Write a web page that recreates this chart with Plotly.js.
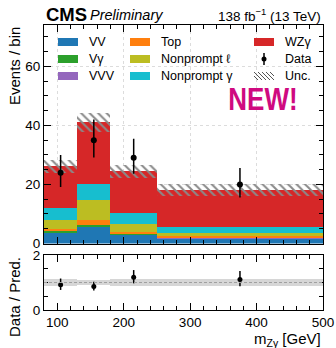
<!DOCTYPE html>
<html>
<head>
<meta charset="utf-8">
<script src="https://cdn.plot.ly/plotly-3.0.1.min.js"></script>
<style>
  html, body { margin: 0; padding: 0; background: #fff; }
  #plot { width: 336px; height: 348px; }
</style>
</head>
<body>
<div id="plot"></div>
<script>
// Bin edges in m_Zγ [GeV]
const binEdges = [80, 130, 180, 250, 500];

// Expected yields per bin, stacked from bottom to top
const vv          = [3.7, 5.6, 2.8, 1.45];
const vgamma      = [0.5, 0.6, 0.4, 0.15];
const vvv         = [0.15, 0.15, 0.1, 0.15];
const topQuark    = [0.65, 1.55, 0.5, 0.7];
const nonpromptL  = [3.1, 6.9, 2.9, 1.05];
const nonpromptG  = [3.9, 5.5, 3.7, 2.1];
const wzgamma     = [14.2, 20.7, 14.0, 12.4];

// Total prediction uncertainty (absolute, half width)
const predUnc     = [2.2, 3.3, 2.1, 2.0];
// Relative uncertainty shown in the ratio panel
const ratioUnc    = [0.14, 0.10, 0.13, 0.13];

// Observed events with asymmetric Poisson errors
const dataCounts  = [24, 35, 29, 20];
const dataErrUp   = [5.99, 6.97, 6.44, 5.58];
const dataErrDown = [4.88, 5.89, 5.35, 4.44];

// Axis tick values
const xTicks = [100, 200, 300, 400, 500];
const yTicks = [0, 20, 40, 60];
const rTicks = [0, 2];

const processNames  = ['VV', 'Vγ', 'VVV', 'Top', 'Nonprompt ℓ', 'Nonprompt γ', 'WZγ'];
const processValues = [vv, vgamma, vvv, topQuark, nonpromptL, nonpromptG, wzgamma];
const processColors = ['#1f77b4', '#2ca02c', '#9467bd', '#ff7f0e', '#bcbd22', '#17becf', '#d62728'];

const centers = binEdges.slice(0, -1).map((e, i) => (e + binEdges[i + 1]) / 2);
const widths  = binEdges.slice(0, -1).map((e, i) => binEdges[i + 1] - e);

const traces = [];
const running = centers.map(() => 0);
processValues.forEach((vals, k) => {
  traces.push({
    type: 'bar', x: centers, y: vals, base: running.slice(), width: widths,
    marker: { color: processColors[k], line: { width: 0 } },
    name: processNames[k], showlegend: false, hoverinfo: 'skip',
    xaxis: 'x', yaxis: 'y'
  });
  vals.forEach((v, i) => { running[i] += v; });
});
const total = running.slice();

// Hatched uncertainty band around the total prediction
traces.push({
  type: 'bar', x: centers, y: predUnc.map(u => 2 * u),
  base: total.map((t, i) => t - predUnc[i]), width: widths,
  marker: { color: 'rgba(0,0,0,0)', line: { width: 0 },
            pattern: { shape: '\\', fgcolor: '#8a8a8a', bgcolor: 'rgba(0,0,0,0)', size: 6, solidity: 0.35 } },
  showlegend: false, hoverinfo: 'skip', xaxis: 'x', yaxis: 'y'
});

// Data points
traces.push({
  type: 'scatter', mode: 'markers', x: centers, y: dataCounts,
  marker: { color: 'black', size: 6 },
  error_y: { type: 'data', symmetric: false, array: dataErrUp, arrayminus: dataErrDown,
             color: 'black', thickness: 1.5, width: 0 },
  showlegend: false, hoverinfo: 'skip', xaxis: 'x', yaxis: 'y'
});

// Ratio panel: uncertainty band
traces.push({
  type: 'bar', x: centers, y: ratioUnc.map(u => 2 * u), base: ratioUnc.map(u => 1 - u),
  width: widths, marker: { color: '#d6d6d6', line: { width: 0 } },
  showlegend: false, hoverinfo: 'skip', xaxis: 'x2', yaxis: 'y2'
});

// Ratio panel: data / prediction
traces.push({
  type: 'scatter', mode: 'markers', x: centers,
  y: dataCounts.map((d, i) => d / total[i]),
  marker: { color: 'black', size: 5 },
  error_y: { type: 'data', symmetric: false,
             array: dataErrUp.map((e, i) => e / total[i]),
             arrayminus: dataErrDown.map((e, i) => e / total[i]),
             color: 'black', thickness: 1.5, width: 0 },
  showlegend: false, hoverinfo: 'skip', xaxis: 'x2', yaxis: 'y2'
});

// Pixel helpers for annotations and the hand-drawn legend
const L = 44, R = 13, T = 25, B = 38, W = 336, H = 348;
const pw = W - L - R, ph = H - T - B;
const px = x => (x - L) / pw;
const py = y => (H - B - y) / ph;

const FONT = 'Liberation Sans, Arial, sans-serif';
const tickFont = { family: FONT, size: 13.5, color: 'black' };

const axisCommon = {
  showline: true, linecolor: 'black', linewidth: 1, mirror: 'allticks',
  ticks: 'inside', ticklen: 7, tickcolor: 'black', tickwidth: 1,
  tickfont: tickFont, zeroline: false
};

const shapes = [];
const annotations = [];

// Dashed reference line at ratio = 1
shapes.push({ type: 'line', xref: 'x2', yref: 'y2', x0: 80, x1: 500, y0: 1, y1: 1,
              line: { color: '#a0a0a0', width: 1, dash: '3px,2px' }, layer: 'above' });

// Legend: three columns of entries
const legendItems = [
  { label: 'VV', color: processColors[0], col: 0, row: 0 },
  { label: 'Vγ', color: processColors[1], col: 0, row: 1 },
  { label: 'VVV', color: processColors[2], col: 0, row: 2 },
  { label: 'Top', color: processColors[3], col: 1, row: 0 },
  { label: 'Nonprompt ℓ', color: processColors[4], col: 1, row: 1 },
  { label: 'Nonprompt γ', color: processColors[5], col: 1, row: 2 },
  { label: 'WZγ', color: processColors[6], col: 2, row: 0 },
  { label: 'Data', kind: 'data', col: 2, row: 1 },
  { label: 'Unc.', kind: 'unc', col: 2, row: 2 }
];
const colX = [58, 130, 254];
const rowY = [42, 59, 76];
const swW = 20, swH = 8;
legendItems.forEach(it => {
  const x0 = colX[it.col], yc = rowY[it.row];
  if (it.kind === 'data') {
    const xc = x0 + swW / 2;
    shapes.push({ type: 'line', xref: 'paper', yref: 'paper', x0: px(xc), x1: px(xc),
                  y0: py(yc - 6), y1: py(yc + 6), line: { color: 'black', width: 1.5 } });
    shapes.push({ type: 'circle', xref: 'paper', yref: 'paper', x0: px(xc - 2.5), x1: px(xc + 2.5),
                  y0: py(yc + 2.5), y1: py(yc - 2.5), fillcolor: 'black', line: { width: 0 } });
  } else if (it.kind === 'unc') {
    for (let s = -4; s <= swW; s += 4) {
      const xa = Math.max(x0 + s, x0), xb = Math.min(x0 + s + swH, x0 + swW);
      const ya = yc - swH / 2 + (xa - (x0 + s)), yb = yc - swH / 2 + (xb - (x0 + s));
      if (xb > xa) shapes.push({ type: 'line', xref: 'paper', yref: 'paper',
                  x0: px(xa), x1: px(xb), y0: py(ya), y1: py(yb), line: { color: '#555', width: 1 } });
    }
  } else {
    shapes.push({ type: 'rect', xref: 'paper', yref: 'paper', x0: px(x0), x1: px(x0 + swW),
                  y0: py(yc + swH / 2), y1: py(yc - swH / 2), fillcolor: it.color, line: { width: 0 } });
  }
  annotations.push({ xref: 'paper', yref: 'paper', x: px(x0 + swW + 9), y: py(yc),
                     xanchor: 'left', yanchor: 'middle', showarrow: false, text: it.label,
                     font: { family: FONT, size: 12.5, color: 'black' } });
});

// Header texts
annotations.push({ xref: 'paper', yref: 'paper', x: px(44), y: py(14), xanchor: 'left', yanchor: 'middle',
  showarrow: false, text: '<b>CMS</b>', font: { family: FONT, size: 18.5, color: 'black' } });
annotations.push({ xref: 'paper', yref: 'paper', x: px(88), y: py(15), xanchor: 'left', yanchor: 'middle',
  showarrow: false, text: '<i>Preliminary</i>', font: { family: FONT, size: 14.5, color: 'black' } });
annotations.push({ xref: 'paper', yref: 'paper', x: px(323), y: py(15), xanchor: 'right', yanchor: 'middle',
  showarrow: false, text: '138 fb<sup>−1</sup> (13 TeV)', font: { family: FONT, size: 13.5, color: 'black' } });

// Highlight stamp
annotations.push({ xref: 'paper', yref: 'paper', x: px(300), y: py(99), xanchor: 'right', yanchor: 'middle',
  showarrow: false, text: '<b>NEW!</b>', name: 'stamp',
  font: { family: FONT, size: 31, color: '#cf0a80' } });

// Axis titles
annotations.push({ xref: 'paper', yref: 'paper', x: px(14), y: py(25), xanchor: 'center', yanchor: 'top',
  textangle: -90, showarrow: false, text: 'Events / bin', font: { family: FONT, size: 15, color: 'black' } });
annotations.push({ xref: 'paper', yref: 'paper', x: px(14), y: py(255), xanchor: 'center', yanchor: 'top',
  textangle: -90, showarrow: false, text: 'Data / Pred.', font: { family: FONT, size: 15, color: 'black' } });
annotations.push({ xref: 'paper', yref: 'paper', x: px(323), y: py(339), xanchor: 'right', yanchor: 'middle',
  showarrow: false, text: 'm<sub>Zγ</sub> [GeV]', font: { family: FONT, size: 15, color: 'black' } });

const mainBottom = py(243.5), ratioTop = py(255);

const layout = {
  width: W, height: H,
  margin: { l: L, r: R, t: T, b: B, pad: 0 },
  paper_bgcolor: 'white', plot_bgcolor: 'white',
  barmode: 'overlay', bargap: 0, showlegend: false,
  xaxis: Object.assign({}, axisCommon, {
    anchor: 'y', range: [80, 500], tickvals: xTicks, showticklabels: false,
    showgrid: true, gridcolor: '#dcdcdc', griddash: 'dot', gridwidth: 1,
    minor: { ticks: 'inside', ticklen: 4, dtick: 20, tick0: 0, tickcolor: 'black', showgrid: false }
  }),
  yaxis: Object.assign({}, axisCommon, {
    domain: [mainBottom, 1], range: [0, 74], tickvals: yTicks,
    showgrid: true, gridcolor: '#dcdcdc', griddash: 'dot', gridwidth: 1,
    minor: { ticks: 'inside', ticklen: 4, dtick: 5, tick0: 0, tickcolor: 'black', showgrid: false }
  }),
  xaxis2: Object.assign({}, axisCommon, {
    anchor: 'y2', matches: 'x', range: [80, 500], tickvals: xTicks, showgrid: false,
    minor: { ticks: 'inside', ticklen: 4, dtick: 20, tick0: 0, tickcolor: 'black', showgrid: false }
  }),
  yaxis2: Object.assign({}, axisCommon, {
    domain: [0, ratioTop], range: [0, 2], tickvals: rTicks, showgrid: false,
    minor: { ticks: 'inside', ticklen: 4, dtick: 0.5, tick0: 0, tickcolor: 'black', showgrid: false }
  }),
  shapes: shapes,
  annotations: annotations
};

Plotly.newPlot('plot', traces, layout, { staticPlot: true, displayModeBar: false }).then(gd => {
  // Narrow the stamp text horizontally, keeping its right edge in place
  gd.querySelectorAll('text.annotation-text').forEach(t => {
    if (t.textContent === 'NEW!') {
      const bb = t.getBBox();
      const xr = bb.x + bb.width;
      t.setAttribute('transform', `translate(${xr},0) scale(0.84,1) translate(${-xr},0)`);
    }
  });
});
</script>
</body>
</html>
